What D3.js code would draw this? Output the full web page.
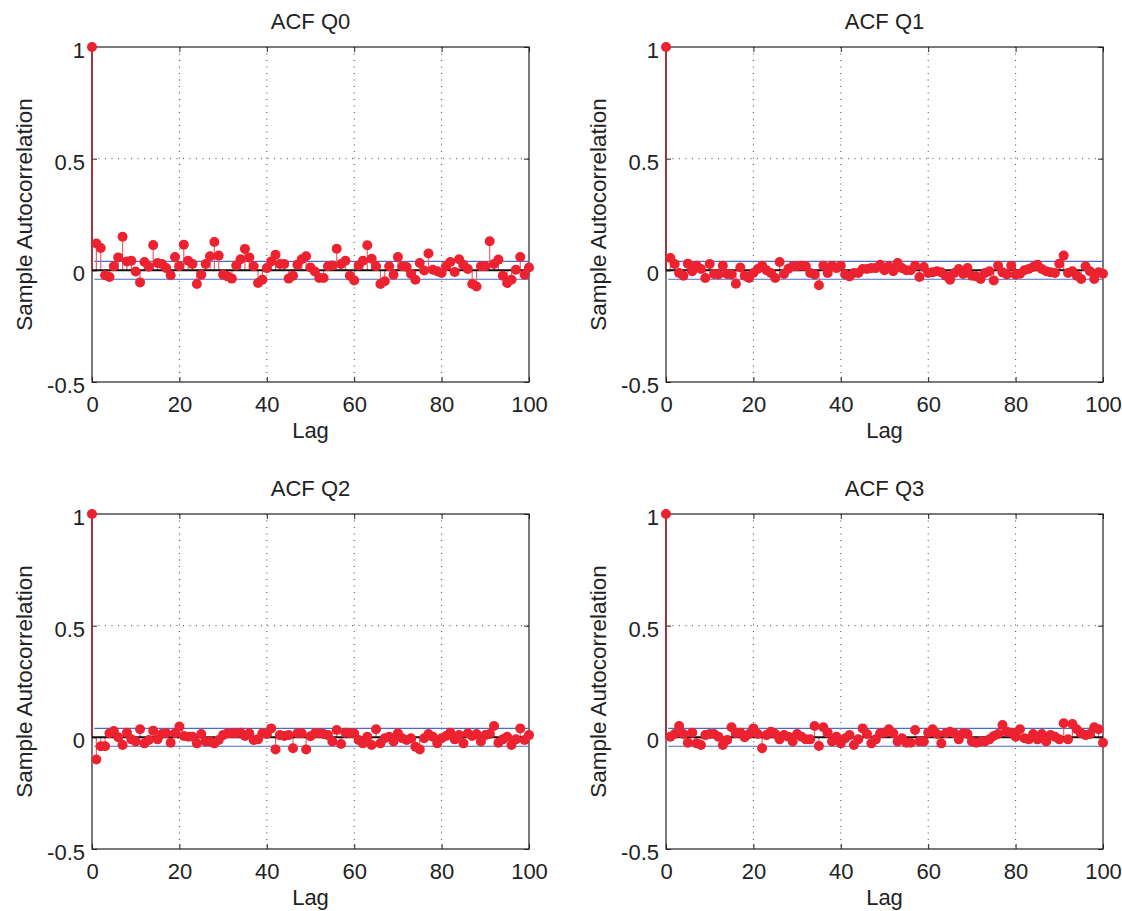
<!DOCTYPE html>
<html><head><meta charset="utf-8">
<script src="https://cdn.jsdelivr.net/npm/d3@7"></script>
<style>
body{margin:0;background:#fff;}
text{font-family:"Liberation Sans",Arial,Helvetica,sans-serif;fill:#222;}
</style></head>
<body><svg id="c" width="1122" height="911"></svg>
<script>
const titles = ["ACF Q0","ACF Q1","ACF Q2","ACF Q3"];
const xTicks = [0,20,40,60,80,100];
const yTicks = [-0.5,0,0.5,1];
const yTickLabels = ["-0.5","0","0.5","1"];
const xLabel = "Lag";
const yLabel = "Sample Autocorrelation";
const confBound = 0.04;

const acfQ0 = [1,0.12,0.10,-0.022,-0.03,0.018,0.058,0.15,0.04,0.043,-0.005,-0.054,0.037,0.016,0.113,0.033,0.028,0.01,-0.022,0.06,0.018,0.115,0.043,0.028,-0.061,-0.02,0.028,0.063,0.127,0.066,-0.02,-0.027,-0.037,0.022,0.05,0.096,0.058,0.018,-0.057,-0.042,0.01,0.04,0.07,0.028,0.028,-0.037,-0.024,0.025,0.05,0.063,0.013,-0.005,-0.034,-0.034,0.018,0.022,0.097,0.028,0.043,-0.024,-0.045,0.022,0.043,0.112,0.052,0.018,-0.061,-0.049,0.018,-0.02,0.06,0.018,0.015,-0.016,-0.042,0.033,-0.001,0.075,0.003,-0.004,-0.012,0.018,0.037,-0.007,0.05,0.025,0.006,-0.061,-0.072,0.018,0.018,0.13,0.028,0.048,-0.024,-0.057,-0.042,0.003,0.06,-0.02,0.013];
const acfQ1 = [1,0.055,0.028,-0.012,-0.024,0.03,-0.004,0.021,0.006,-0.034,0.028,-0.016,-0.019,0.021,-0.016,-0.019,-0.06,0.013,-0.024,-0.034,-0.012,0.006,0.021,0,-0.012,-0.034,0.037,-0.016,0.007,0.018,0.018,0.021,0.018,-0.012,-0.019,-0.067,0.021,-0.012,0.021,0.01,0.021,-0.019,-0.027,-0.012,-0.012,0.006,0.006,0.01,0.01,0.025,0,0.018,-0.004,0.033,0.01,0,0,0.021,-0.03,0.015,-0.012,-0.009,-0.004,-0.009,-0.024,-0.042,-0.012,0.006,-0.016,0.01,-0.024,-0.027,-0.039,-0.012,-0.004,-0.045,0.021,-0.009,-0.019,0.021,-0.019,-0.015,0,0.006,0.015,0.025,0.006,-0.004,-0.009,-0.012,0.03,0.066,-0.012,-0.004,-0.024,-0.039,0.018,-0.004,-0.039,-0.009,-0.015];
const acfQ2 = [1,-0.099,-0.04,-0.04,0.018,0.028,0,-0.034,0.021,-0.009,-0.019,0.036,-0.027,-0.012,0.03,-0.009,0.015,0.018,-0.024,0.018,0.048,0.006,0.003,0.003,-0.027,0.015,-0.019,-0.019,-0.027,-0.012,0.01,0.018,0.018,0.018,0.021,0.006,0.018,-0.012,-0.009,0.018,0.015,0.04,-0.054,0.01,0.006,0.01,-0.049,0.018,0.018,-0.054,0.005,0.018,0.018,0.015,0.01,-0.019,0.033,-0.03,0.021,0.018,0.018,-0.012,-0.027,0.003,-0.034,0.036,-0.027,-0.004,0.003,-0.019,0.018,-0.004,-0.012,-0.004,-0.042,-0.054,-0.004,0.015,0.003,-0.027,-0.004,0.006,0.021,-0.009,0.01,-0.027,0.018,0.006,0.015,-0.019,0.01,0.015,0.051,-0.024,-0.009,0.003,-0.034,-0.009,0.04,-0.012,0.01];
const acfQ3 = [1,0.003,0.015,0.051,0.015,-0.024,0.021,-0.027,-0.034,0.01,0.015,0.015,0.003,-0.034,-0.012,0.045,0.018,0.021,0,0.015,0.04,0.015,-0.049,0.01,0.025,0.015,-0.009,0.01,0.003,-0.019,0.015,0.003,-0.009,-0.009,0.051,-0.039,0.045,0.021,-0.019,0.003,-0.027,-0.004,0.01,-0.034,-0.009,0.04,0.015,-0.027,-0.009,0.018,0.021,0.036,0.018,-0.019,-0.004,-0.024,-0.024,0.033,-0.019,-0.019,0.021,0.036,0.015,-0.027,0.018,0.025,0.018,-0.009,0.018,0.015,-0.019,-0.024,-0.019,-0.019,-0.009,0.006,0.015,0.055,0.025,0.021,0.003,0.036,-0.004,-0.009,0.015,-0.009,0.015,-0.019,0.01,0.003,-0.009,0.063,-0.009,0.06,0.036,0.018,0.01,0.015,0.045,0.036,-0.024];
const series = [acfQ0, acfQ1, acfQ2, acfQ3];

const svg = d3.select("#c");
const panels = [
  {x0:92, x1:529, y0:47, y1:382},
  {x0:666, x1:1103, y0:47, y1:382},
  {x0:92, x1:529, y0:514, y1:849},
  {x0:666, x1:1103, y0:514, y1:849}
];

panels.forEach((p, i) => {
  const vals = series[i];
  const x = d3.scaleLinear().domain([0,100]).range([p.x0, p.x1]);
  const y = d3.scaleLinear().domain([-0.5,1]).range([p.y1, p.y0]);
  const g = svg.append("g");

  // grid (dotted)
  g.selectAll(".gx").data(xTicks.filter(t => t > 0 && t < 100)).enter().append("line")
    .attr("x1", d => x(d)).attr("x2", d => x(d)).attr("y1", p.y0).attr("y2", p.y1)
    .attr("stroke", "#444").attr("stroke-width", 1).attr("stroke-dasharray", "1,5.5");
  g.selectAll(".gy").data(yTicks.filter(t => t > -0.5 && t < 1)).enter().append("line")
    .attr("x1", p.x0).attr("x2", p.x1).attr("y1", d => y(d)).attr("y2", d => y(d))
    .attr("stroke", "#444").attr("stroke-width", 1).attr("stroke-dasharray", "1,5.5");

  // axes with inward ticks
  const xb = d3.axisBottom(x).tickValues(xTicks).tickSize(-5).tickPadding(10).tickFormat(d3.format("d"));
  const xt = d3.axisTop(x).tickValues(xTicks).tickSize(-5).tickFormat("");
  const yl = d3.axisLeft(y).tickValues(yTicks).tickSize(-5).tickPadding(7).tickFormat((d, k) => yTickLabels[k]);
  const yr = d3.axisRight(y).tickValues(yTicks).tickSize(-5).tickFormat("");
  const styleAxis = sel => {
    sel.selectAll(".tick line").attr("stroke", "#222");
    sel.selectAll("text").style("font-size", "22px").attr("fill", "#222");
  };
  g.append("g").attr("transform", `translate(0,${p.y1})`).call(xb).call(styleAxis)
    .selectAll("text").attr("y", 30).attr("dy", 0);
  g.append("g").attr("transform", `translate(0,${p.y0})`).call(xt).call(styleAxis);
  g.append("g").attr("transform", `translate(${p.x0},0)`).call(yl).call(styleAxis)
    .selectAll("text").attr("dy", "0.48em");
  g.append("g").attr("transform", `translate(${p.x1},0)`).call(yr).call(styleAxis);
  g.selectAll(".domain").remove();
  g.append("rect").attr("x", p.x0).attr("y", p.y0).attr("width", p.x1 - p.x0).attr("height", p.y1 - p.y0)
    .attr("fill", "none").attr("stroke", "#222").attr("stroke-width", 1.2);

  // confidence bounds
  [confBound, -confBound].forEach(b => {
    g.append("line").attr("x1", x(0.5)).attr("x2", x(100)).attr("y1", y(b)).attr("y2", y(b))
      .attr("stroke", "#4a6bc4").attr("stroke-width", 1.2);
  });

  // stems
  g.selectAll(".stem").data(vals).enter().append("line")
    .attr("x1", (d, k) => x(k)).attr("x2", (d, k) => x(k))
    .attr("y1", y(0)).attr("y2", d => y(d))
    .attr("stroke", (d, k) => k === 0 ? "#b0202a" : "#f0606c").attr("stroke-width", (d, k) => k === 0 ? 1.5 : 1.2);

  // zero line
  g.append("line").attr("x1", p.x0).attr("x2", p.x1).attr("y1", y(0)).attr("y2", y(0))
    .attr("stroke", "#111").attr("stroke-width", 2);

  // markers
  g.selectAll(".mk").data(vals).enter().append("circle")
    .attr("cx", (d, k) => x(k)).attr("cy", d => y(d)).attr("r", 5)
    .attr("fill", "#ec2230");

  // titles and labels
  g.append("text").attr("x", (p.x0 + p.x1) / 2).attr("y", p.y0 - 18).attr("text-anchor", "middle")
    .style("font-size", "22px").text(titles[i]);
  g.append("text").attr("x", (p.x0 + p.x1) / 2).attr("y", p.y1 + 56).attr("text-anchor", "middle")
    .style("font-size", "22px").text(xLabel);
  g.append("text").attr("transform", `translate(${p.x0 - 60},${(p.y0 + p.y1) / 2}) rotate(-90)`)
    .attr("text-anchor", "middle").style("font-size", "22.5px").text(yLabel);
});
</script></body></html>
